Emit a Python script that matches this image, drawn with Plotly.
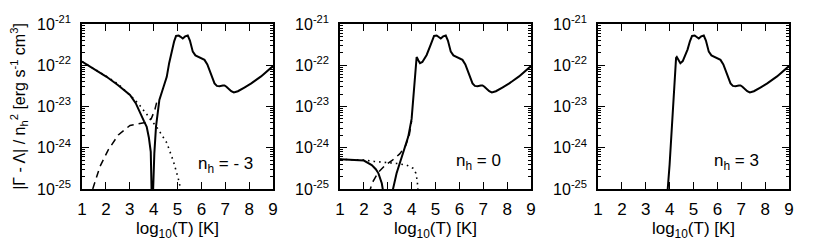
import plotly.graph_objects as go

# ---------------- data (log10 T, log10 |value| in erg s^-1 cm^3) ----------------
# shared high-temperature cooling curve
hi_logT = [4.94, 5.05, 5.13, 5.22, 5.32, 5.43, 5.52, 5.64, 5.75, 5.85, 6.0, 6.13, 6.25,
           6.34, 6.45, 6.55, 6.65, 6.76, 6.9, 6.97, 7.05, 7.15, 7.25, 7.36, 7.45, 7.53,
           7.8, 8.09, 8.5, 9.0]
hi_logV = [-21.29, -21.28, -21.31, -21.35, -21.30, -21.28, -21.40, -21.67, -21.76, -21.79,
           -21.82, -21.87, -21.98, -22.12, -22.30, -22.44, -22.50, -22.51, -22.49, -22.49,
           -22.52, -22.58, -22.63, -22.66, -22.65, -22.63, -22.54, -22.44, -22.27, -22.02]

# panel n_h = -3
p1_net_logT = [1.0, 1.5, 2.03, 2.5, 3.01, 3.25, 3.43, 3.6, 3.71, 3.8, 3.88, 3.92,
               3.95, 3.98, 4.03, 4.1, 4.24, 4.4, 4.55, 4.65, 4.76, 4.86]
p1_net_logV = [-21.91, -22.08, -22.28, -22.48, -22.72, -22.92, -23.17, -23.36, -23.49,
               -23.75, -24.1, -26.0, -26.0, -25.0, -24.13, -23.49, -22.84, -22.55, -22.28,
               -21.95, -21.63, -21.42]
p1_heat_logT = [1.0, 1.5, 2.03, 2.5, 2.87, 3.2, 3.43, 3.85, 4.13, 4.55, 4.83, 5.03, 5.13, 5.17]
p1_heat_logV = [-21.91, -22.08, -22.27, -22.45, -22.64, -22.83, -22.98, -23.3, -23.5,
                -23.88, -24.33, -24.74, -24.95, -25.1]
p1_cool_logT = [1.45, 1.75, 2.1, 2.52, 3.01, 3.43, 3.71, 3.9, 4.05, 4.15]
p1_cool_logV = [-25.0, -24.46, -24.05, -23.69, -23.46, -23.41, -23.38, -23.3, -23.08,
                -22.85]

# panel n_h = 0
p2_net_logT = [1.0, 1.5, 2.0, 2.33, 2.5, 2.61, 2.75, 2.82, 2.86, 3.18, 3.22, 3.37, 3.58,
               3.86, 4.0, 4.07, 4.13, 4.18, 4.21, 4.28, 4.35, 4.45, 4.63, 4.8]
p2_net_logV = [-24.28, -24.29, -24.31, -24.42, -24.52, -24.62, -24.86, -25.1, -26.0, -26.0,
               -25.0, -24.62, -24.22, -23.73, -23.3, -22.8, -22.2, -21.85, -21.8, -21.88,
               -21.95, -21.92, -21.75, -21.5]
p2_heat_logT = [1.0, 2.0, 2.42, 2.91, 3.37, 3.79, 4.07, 4.18, 4.24, 4.27]
p2_heat_logV = [-24.28, -24.3, -24.33, -24.35, -24.38, -24.42, -24.5, -24.62, -24.82, -25.1]
p2_cool_logT = [2.22, 2.35, 2.6, 2.9, 3.2, 3.5, 3.75, 3.9, 4.0]
p2_cool_logV = [-25.1, -24.85, -24.6, -24.42, -24.3, -24.15, -23.95, -23.7, -23.35]

# panel n_h = 3
p3_net_logT = [3.88, 3.92, 4.0, 4.1, 4.2, 4.27, 4.3, 4.37, 4.45, 4.55, 4.65, 4.75, 4.85]
p3_net_logV = [-25.2, -25.0, -24.4, -23.4, -22.4, -21.82, -21.8, -21.88, -21.95, -21.9,
               -21.78, -21.62, -21.42]

labels = ["n<sub>h</sub> = - 3", "n<sub>h</sub> = 0", "n<sub>h</sub> = 3"]
x_ticks = [1, 2, 3, 4, 5, 6, 7, 8, 9]
y_tick_exp = [-25, -24, -23, -22, -21]

# ---------------- figure ----------------
def lin(v):
    return [10 ** a for a in v]

# page body has an 8px margin, so the figure is drawn at (8, 8)
W, H = 822, 234
L, R, T, B = 74, 41, 16, 53
plot_w = W - L - R
panel_w = 191
step = 258
domains = [[i * step / plot_w, min((i * step + panel_w) / plot_w, 1.0)] for i in range(3)]

fig = go.Figure()
solid = dict(color="black", width=2)
dotted = dict(color="black", width=1.6, dash="1.6px,4px")
dashed = dict(color="black", width=1.5, dash="7px,5px")

panels = [
    [(p1_net_logT + hi_logT, p1_net_logV + hi_logV, solid),
     (p1_heat_logT, p1_heat_logV, dotted),
     (p1_cool_logT, p1_cool_logV, dashed)],
    [(p2_net_logT + hi_logT, p2_net_logV + hi_logV, solid),
     (p2_heat_logT, p2_heat_logV, dotted),
     (p2_cool_logT, p2_cool_logV, dashed)],
    [(p3_net_logT + hi_logT, p3_net_logV + hi_logV, solid)],
]
label_pos = [(7.0, -24.42), (6.82, -24.35), (6.82, -24.35)]

minor_vals = [k * 10.0 ** e for e in range(-25, -21) for k in range(2, 10)]
font = "Liberation Sans, Arial, Helvetica, sans-serif"

for i, series in enumerate(panels):
    xa = "x" if i == 0 else f"x{i+1}"
    ya = "y" if i == 0 else f"y{i+1}"
    for xs, vs, ln in series:
        fig.add_trace(go.Scatter(x=xs, y=lin(vs), mode="lines", line=ln,
                                 xaxis=xa, yaxis=ya, showlegend=False,
                                 hoverinfo="skip"))
    key = "" if i == 0 else str(i + 1)
    fig.layout["xaxis" + key] = dict(
        domain=domains[i], range=[1, 9], anchor=ya, automargin=False,
        tickvals=x_ticks, ticktext=[str(t) for t in x_ticks],
        ticks="inside", ticklen=7, tickwidth=1, tickcolor="black",
        showline=True, linecolor="black", linewidth=1.5, mirror="ticks",
        showgrid=False, zeroline=False, ticklabelstandoff=4,
        tickfont=dict(family=font, size=17, color="black"),
        title=dict(text="log<sub>10</sub>(T) [K]", standoff=4,
                   font=dict(family=font, size=17, color="black")),
    )
    fig.layout["yaxis" + key] = dict(
        type="log", range=[-25, -21], anchor=xa, domain=[0, 1], automargin=False,
        tickvals=[10.0 ** e for e in y_tick_exp],
        ticktext=[f"10<sup>{e}</sup>" for e in y_tick_exp],
        ticks="inside", ticklen=7, tickwidth=1, tickcolor="black",
        minor=dict(tickvals=minor_vals, ticks="inside", ticklen=3,
                   tickwidth=1, tickcolor="black", showgrid=False),
        showline=True, linecolor="black", linewidth=1.5, mirror="ticks",
        showgrid=False, zeroline=False, ticklabelstandoff=6,
        tickfont=dict(family=font, size=16, color="black"),
    )
    lx, ly = label_pos[i]
    fig.add_annotation(x=lx, y=ly, xref=xa, yref=ya, text=labels[i],
                       showarrow=False, xanchor="center", yanchor="middle",
                       font=dict(family=font, size=17, color="black"))

fig.layout.yaxis.title = dict(
    text="|Γ - Λ| / n<sub>h</sub><sup>2</sup> [erg s<sup>-1</sup> cm<sup>3</sup>]",
    standoff=10, font=dict(family=font, size=16, color="black"))

fig.update_layout(width=W, height=H, margin=dict(l=L, r=R, t=T, b=B),
                  plot_bgcolor="white", paper_bgcolor="white")

fig.write_html("out.html")
